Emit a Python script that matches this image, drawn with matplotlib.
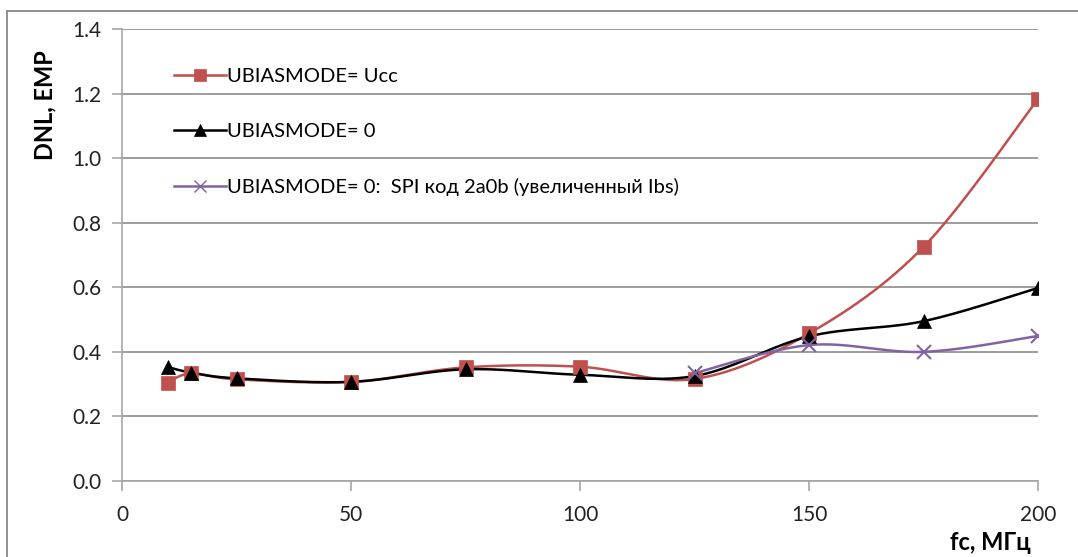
import numpy as np
import matplotlib.pyplot as plt
from matplotlib.patches import Rectangle

plt.rcParams['font.family'] = ['Lato', 'DejaVu Sans']

# Данные: частота fc (МГц) и DNL (EMP)
fc = [10, 15, 25, 50, 75, 100, 125, 150, 175, 200]
dnl_ucc = [0.305, 0.333, 0.315, 0.307, 0.352, 0.354, 0.316, 0.457, 0.725, 1.183]
dnl_0 = [0.353, 0.336, 0.318, 0.307, 0.346, 0.329, 0.325, 0.448, 0.495, 0.598]
fc_spi = [125, 150, 175, 200]
dnl_spi = [0.334, 0.421, 0.400, 0.449]

labels = ['UBIASMODE= Ucc', 'UBIASMODE= 0',
          'UBIASMODE= 0:  SPI код 2a0b (увеличенный Ibs)']
colors = ['#C0504D', '#000000', '#8064A2']

xlim = (0, 200)
ylim = (0, 1.4)


def smooth(x, y, n=30):
    # сглаживание как в Excel: кривые Безье через точки (Catmull-Rom)
    x = np.asarray(x, float)
    y = np.asarray(y, float)
    # нормируем, чтобы сглаживание было в координатах картинки
    sx = (xlim[1] - xlim[0]) / 916.0
    sy = (ylim[1] - ylim[0]) / 453.0
    px, py = x / sx, y / sy
    P = np.column_stack([px, py])
    P = np.vstack([P[0], P, P[-1]])
    out = []
    t = np.linspace(0, 1, n)[:, None]
    for i in range(1, len(P) - 2):
        p0, p1, p2, p3 = P[i - 1], P[i], P[i + 1], P[i + 2]
        c1 = p1 + (p2 - p0) / 6
        c2 = p2 - (p3 - p1) / 6
        seg = ((1 - t) ** 3) * p1 + 3 * ((1 - t) ** 2) * t * c1 \
            + 3 * (1 - t) * t ** 2 * c2 + t ** 3 * p2
        out.append(seg)
    out = np.vstack(out)
    return out[:, 0] * sx, out[:, 1] * sy


fig = plt.figure(figsize=(10.78, 5.57), dpi=100)
ax = fig.add_axes([122 / 1078, 1 - 481 / 557, 916 / 1078, 452 / 557])

# рамка вокруг диаграммы
fig.patches.append(Rectangle((7 / 1078, -0.1), 1.2, (1 - 11 / 557) + 0.1,
                             transform=fig.transFigure, fill=False,
                             edgecolor='#868686', linewidth=1.3))

series = [(fc, dnl_ucc, 's', 10, 1.8),
          (fc, dnl_0, '^', 10, 1.8),
          (fc_spi, dnl_spi, 'x', 10, 1.8)]
for (x, y, m, ms, lw), lab, c in zip(series, labels, colors):
    sx, sy = smooth(x, y)
    ax.plot(sx, sy, color=c, linewidth=lw, zorder=3)
    ax.plot(x, y, linestyle='none', marker=m, markersize=ms,
            color=c, markeredgewidth=1.5 if m == 'x' else 0.5, zorder=4)
    ax.plot([], [], color=c, linewidth=lw, marker=m,
            markersize=ms - 2, markeredgewidth=1.0 if m == 'x' else 0.5,
            label=lab)

ax.set_xlim(*xlim)
ax.set_ylim(*ylim)
ax.set_xticks([0, 50, 100, 150, 200])
ax.set_yticks(np.arange(0, 1.41, 0.2))
ax.set_yticklabels(['%.1f' % v for v in np.arange(0, 1.41, 0.2)])
ax.grid(axis='y', color='#8c8c8c', linewidth=1.2)
ax.set_axisbelow(True)

for s in ['top', 'right']:
    ax.spines[s].set_visible(False)
for s in ['left', 'bottom']:
    ax.spines[s].set_color('#a6a6a6')
    ax.spines[s].set_linewidth(1.2)
ax.tick_params(axis='both', colors='#a6a6a6', length=7, width=1.2,
               labelsize=15, labelcolor='#222222')
ax.tick_params(axis='y', pad=8)
ax.tick_params(axis='x', pad=10)

fig.text(45 / 1078, 1 - 105 / 557, 'DNL, EMP', rotation=90,
         ha='center', va='center', fontsize=17, fontweight='bold')
fig.text(1031 / 1078, 1 - 543 / 557, 'fc, МГц', ha='right', va='center',
         fontsize=17, fontweight='bold')

ax.legend(loc='upper left', bbox_to_anchor=(0.037, 0.955), frameon=False,
          fontsize=14.5, labelspacing=1.9, handlelength=2.6,
          handletextpad=0.05)

fig.savefig('out.png', dpi=100)
